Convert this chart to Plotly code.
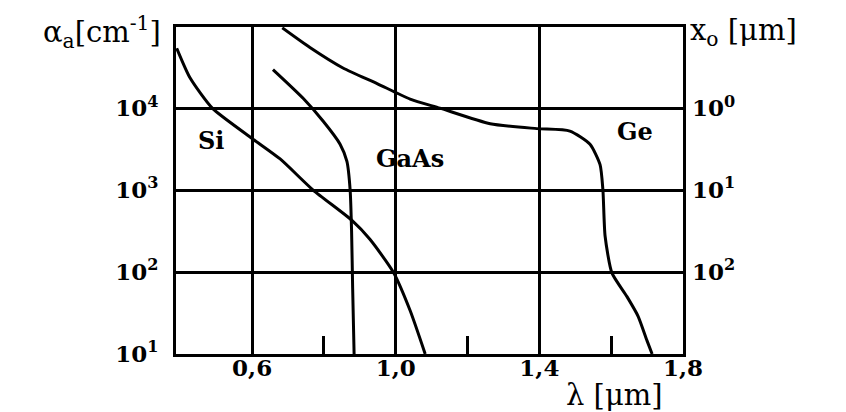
import plotly.graph_objects as go

# wavelength [um] and absorption coefficient [cm^-1]
si_lambda = [0.39, 0.427, 0.489, 0.60, 0.678, 0.77, 0.878, 0.928, 0.993, 1.04, 1.082]
si_alpha = [10**4.73, 10**4.37, 10**4.0, 10**3.63, 10**3.38, 10**3.0, 10**2.63, 10**2.40, 10**2.0, 10**1.53, 10**1.0]

gaas_lambda = [0.658, 0.742, 0.798, 0.845, 0.864, 0.873, 0.877, 0.880, 0.884]
gaas_alpha = [10**4.47, 10**4.12, 10**3.84, 10**3.56, 10**3.35, 10**3.0, 10**2.5, 10**1.8, 10**1.0]

ge_lambda = [0.684, 0.761, 0.853, 0.948, 1.04, 1.123, 1.263, 1.393, 1.485, 1.541, 1.569, 1.577, 1.583, 1.602, 1.644, 1.675, 1.70, 1.714]
ge_alpha = [10**4.98, 10**4.74, 10**4.49, 10**4.30, 10**4.11, 10**4.0, 10**3.81, 10**3.75, 10**3.72, 10**3.56, 10**3.31, 10**3.0, 10**2.44, 10**1.99, 10**1.70, 10**1.46, 10**1.16, 10**1.0]

x_tickvals = [0.6, 1.0, 1.4, 1.8]
x_ticktext = ["0,6", "1,0", "1,4", "1,8"]
x_minor = [0.8, 1.2, 1.6]
y_tickvals = [10, 100, 1000, 10000]
y_ticktext = ["10<sup>1</sup>", "10<sup>2</sup>", "10<sup>3</sup>", "10<sup>4</sup>"]
y2_tickvals = [100, 1000, 10000]
y2_ticktext = ["10<sup>2</sup>", "10<sup>1</sup>", "10<sup>0</sup>"]

# curve labels: (text, lambda, log10 alpha)
labels = [("Si", 0.485, 3.6), ("GaAs", 1.04, 3.38), ("Ge", 1.665, 3.72)]

SERIF = "DejaVu Serif"

fig = go.Figure()
for lam, al in [(si_lambda, si_alpha), (gaas_lambda, gaas_alpha), (ge_lambda, ge_alpha)]:
    fig.add_trace(go.Scatter(x=lam, y=al, mode="lines", line=dict(color="black", width=3, shape="spline", smoothing=0.6),
                             showlegend=False, hoverinfo="skip"))
fig.add_trace(go.Scatter(x=[1.0], y=[1000], yaxis="y2", mode="markers", marker=dict(opacity=0), showlegend=False, hoverinfo="skip"))

for txt, lx, ly in labels:
    fig.add_annotation(x=lx, y=ly, yref="y", xref="x", text="<b>%s</b>" % txt, showarrow=False,
                       font=dict(family=SERIF, size=24, color="black"))

yrange = [1.0, 4.99]
tickfont = dict(family=SERIF, size=23, color="black")
# the page body adds an 8px offset; margins compensate so the frame lands where the reference has it
fig.update_layout(
    width=838, height=404,
    margin=dict(l=168, r=163, t=19, b=58, autoexpand=False),
    paper_bgcolor="white", plot_bgcolor="white",
    xaxis=dict(range=[0.388, 1.8], tickvals=x_tickvals, ticktext=["<b>%s</b>" % t for t in x_ticktext],
               tickfont=tickfont,
               showgrid=True, gridcolor="black", gridwidth=2.5,
               showline=True, linecolor="black", linewidth=3, mirror=True,
               ticks="", zeroline=False, ticklabelstandoff=-9,
               minor=dict(tickvals=x_minor, ticks="inside", ticklen=18, tickwidth=3, tickcolor="black", showgrid=False)),
    yaxis=dict(type="log", range=yrange, tickvals=y_tickvals, ticktext=["<b>%s</b>" % t for t in y_ticktext],
               tickfont=tickfont,
               showgrid=True, gridcolor="black", gridwidth=2.5,
               showline=True, linecolor="black", linewidth=3, mirror=True,
               ticks="", ticklabelstandoff=10, zeroline=False),
    yaxis2=dict(type="log", range=yrange, overlaying="y", side="right", tickvals=y2_tickvals,
                ticktext=["<b>%s</b>" % t for t in y2_ticktext],
                tickfont=tickfont,
                showgrid=False, showline=False, ticks="", ticklabelstandoff=8, zeroline=False),
)

fig.add_annotation(x=-0.025, y=1.0, xref="paper", yref="paper", xanchor="right", yanchor="bottom",
                   text="α<sub>a</sub>[cm<sup>-1</sup>]", showarrow=False,
                   font=dict(family=SERIF, size=29, color="black"), yshift=-28)
fig.add_annotation(x=1.01, y=1.0, xref="paper", yref="paper", xanchor="left", yanchor="bottom",
                   text="x<sub>o</sub> [μm]", showarrow=False,
                   font=dict(family=SERIF, size=29, color="black"), yshift=-26)
fig.add_annotation(x=0.865, y=0.0, xref="paper", yref="paper", xanchor="center", yanchor="top",
                   text="λ [μm]", showarrow=False,
                   font=dict(family=SERIF, size=29, color="black"), yshift=-22)

fig.write_html("out.html")
